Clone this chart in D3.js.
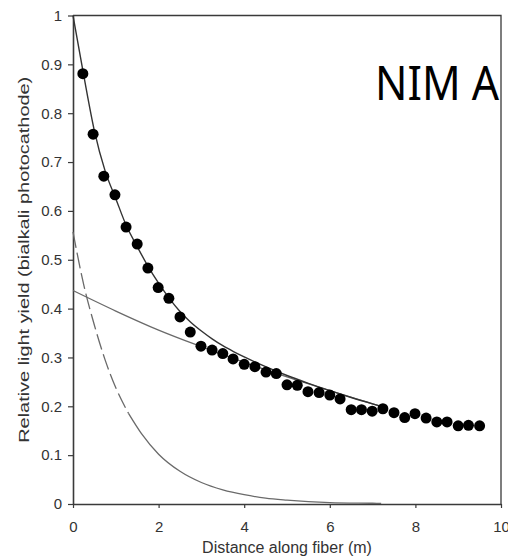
<!DOCTYPE html>
<html>
<head>
<meta charset="utf-8">
<script src="https://cdn.jsdelivr.net/npm/d3@7"></script>
<style>
  body { margin: 0; background: #ffffff; }
  text { font-family: "Liberation Sans", Arial, sans-serif; }
</style>
</head>
<body>
<div id="chart"></div>
<script>
// Measured light yield along the fiber
var distance = [0.23, 0.47, 0.72, 0.98, 1.24, 1.5, 1.75, 1.99, 2.24, 2.5, 2.74, 2.99, 3.25, 3.5, 3.74, 4.0, 4.25, 4.51, 4.75, 5.0, 5.24, 5.49, 5.75, 6.0, 6.24, 6.5, 6.74, 6.99, 7.24, 7.5, 7.75, 7.99, 8.25, 8.5, 8.74, 9.0, 9.24, 9.5];
var yieldValues = [0.881, 0.757, 0.671, 0.633, 0.567, 0.532, 0.483, 0.443, 0.421, 0.383, 0.352, 0.323, 0.315, 0.308, 0.297, 0.286, 0.281, 0.270, 0.267, 0.244, 0.243, 0.230, 0.228, 0.223, 0.215, 0.193, 0.193, 0.190, 0.195, 0.187, 0.177, 0.185, 0.176, 0.168, 0.168, 0.160, 0.161, 0.160];

// Fitted curves
var totalX = [0, 0.25, 0.5, 0.75, 1.0, 1.25, 1.5, 1.75, 2.0, 2.25, 2.5, 2.75, 3.0, 3.25, 3.5, 3.75, 4.0, 4.5, 5.0, 5.5, 6.0, 6.5, 7.0, 7.2];
var totalY = [1.0, 0.878, 0.764, 0.682, 0.625, 0.569, 0.527, 0.487, 0.452, 0.421, 0.394, 0.372, 0.354, 0.338, 0.324, 0.312, 0.301, 0.281, 0.263, 0.247, 0.232, 0.218, 0.205, 0.200];

var slowX = [0, 1, 2, 3, 4, 5, 6, 7, 7.2];
var slowY = [0.437, 0.395, 0.356, 0.322, 0.290, 0.260, 0.232, 0.205, 0.200];

var fastDashX = [0, 0.25, 0.5, 0.75, 1.0, 1.3];
var fastDashY = [0.557, 0.449, 0.366, 0.295, 0.238, 0.185];
var fastX = [1.3, 1.6, 2.0, 2.5, 3.0, 3.5, 4.0, 4.5, 5.0, 5.5, 6.0, 7.0, 7.2];
var fastY = [0.185, 0.144, 0.102, 0.067, 0.044, 0.029, 0.019, 0.012, 0.008, 0.005, 0.003, 0.0015, 0.0012];

var xTicks = [0, 2, 4, 6, 8, 10];
var yTicks = [0, 0.1, 0.2, 0.3, 0.4, 0.5, 0.6, 0.7, 0.8, 0.9, 1];

var width = 508;
var height = 559;
var margin = { top: 15.5, right: 7, bottom: 55, left: 73 };
var axisColor = "#3a3a3a";
var curveColor = "#6a6a6a";

var svg = d3.select("#chart")
    .append("svg")
    .attr("width", width)
    .attr("height", height);

var x = d3.scaleLinear().domain([0, 10]).range([margin.left, width - margin.right]);
var y = d3.scaleLinear().domain([0, 1]).range([height - margin.bottom, margin.top]);

// Frame (top and right lines)
svg.append("path")
    .attr("d", "M" + x(0) + "," + y(1) + "H" + x(10) + "V" + y(0))
    .attr("fill", "none")
    .attr("stroke", axisColor)
    .attr("stroke-width", 1.3);

// Axes
var xAxis = svg.append("g")
    .attr("transform", "translate(0," + y(0) + ")")
    .call(d3.axisBottom(x).tickValues(xTicks).tickFormat(d3.format("d")).tickSizeOuter(0).tickSizeInner(4).tickPadding(13));

var yAxis = svg.append("g")
    .attr("transform", "translate(" + x(0) + ",0)")
    .call(d3.axisLeft(y).tickValues(yTicks).tickFormat(function (d) { return d === 0 || d === 1 ? d3.format("d")(d) : d3.format(".1f")(d); }).tickSizeOuter(0).tickSizeInner(5).tickPadding(6));

[xAxis, yAxis].forEach(function (g) {
    g.select(".domain").attr("stroke", axisColor).attr("stroke-width", 1.6);
    g.selectAll(".tick line").attr("stroke", axisColor).attr("stroke-width", 1.2);
    g.selectAll(".tick text")
        .attr("fill", "#333")
        .style("font-size", "15px")
        .style("font-family", "'Liberation Sans', Arial, sans-serif");
});

// Axis titles
svg.append("text")
    .attr("x", (x(0) + x(10)) / 2)
    .attr("y", 553)
    .attr("text-anchor", "middle")
    .attr("fill", "#333")
    .style("font-size", "16px")
    .text("Distance along fiber (m)");

svg.append("text")
    .attr("transform", "translate(29," + (y(0.5)) + ") rotate(-90)")
    .attr("text-anchor", "middle")
    .attr("fill", "#333")
    .attr("textLength", 366)
    .attr("lengthAdjust", "spacingAndGlyphs")
    .style("font-size", "15.5px")
    .text("Relative light yield (bialkali photocathode)");

// Curves
var line = d3.line()
    .x(function (d) { return x(d[0]); })
    .y(function (d) { return y(d[1]); })
    .curve(d3.curveMonotoneX);

svg.append("path")
    .attr("d", line(d3.zip(slowX, slowY)))
    .attr("fill", "none")
    .attr("stroke", curveColor)
    .attr("stroke-width", 1.3);

svg.append("path")
    .attr("d", line(d3.zip(fastDashX, fastDashY)))
    .attr("fill", "none")
    .attr("stroke", curveColor)
    .attr("stroke-width", 1.3)
    .attr("stroke-dasharray", "16,5");

svg.append("path")
    .attr("d", line(d3.zip(fastX, fastY)))
    .attr("fill", "none")
    .attr("stroke", curveColor)
    .attr("stroke-width", 1.3);

svg.append("path")
    .attr("d", line(d3.zip(totalX, totalY)))
    .attr("fill", "none")
    .attr("stroke", "#333")
    .attr("stroke-width", 1.4);

// Data points
svg.append("g")
    .selectAll("circle")
    .data(d3.zip(distance, yieldValues))
    .enter()
    .append("circle")
    .attr("cx", function (d) { return x(d[0]); })
    .attr("cy", function (d) { return y(d[1]); })
    .attr("r", 5.5)
    .attr("fill", "#000");

// Label
svg.append("text")
    .attr("x", 375)
    .attr("y", 100)
    .attr("fill", "#000")
    .attr("textLength", 124)
    .attr("lengthAdjust", "spacingAndGlyphs")
    .style("font-family", "'Noto Sans', 'Open Sans', sans-serif")
    .style("font-size", "48px")
    .text("NIM A");
</script>
</body>
</html>
